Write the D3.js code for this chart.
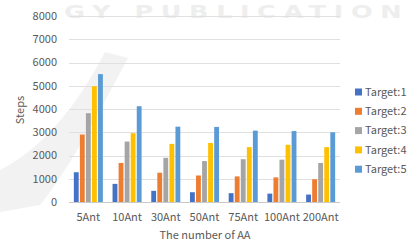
<!DOCTYPE html>
<html>
<head>
<meta charset="utf-8">
<script src="https://cdn.jsdelivr.net/npm/d3@7"></script>
<style>
body { margin: 0; background: #fff; }
svg { display: block; font-family: "Noto Sans CJK JP", "Noto Sans", sans-serif; }
</style>
</head>
<body>
<script>
'use strict';

const width = 413;
const height = 242;

const categories = ["5Ant", "10Ant", "30Ant", "50Ant", "75Ant", "100Ant", "200Ant"];
const seriesNames = ["Target:1", "Target:2", "Target:3", "Target:4", "Target:5"];
const target1 = [1280, 780, 480, 420, 380, 360, 320];
const target2 = [2900, 1680, 1260, 1140, 1100, 1060, 980];
const target3 = [3820, 2600, 1900, 1760, 1840, 1820, 1680];
const target4 = [4980, 2960, 2500, 2540, 2360, 2460, 2360];
const target5 = [5500, 4120, 3240, 3230, 3070, 3050, 3000];
const yTicks = [0, 1000, 2000, 3000, 4000, 5000, 6000, 7000, 8000];
const colors = ["#4472C4", "#ED7D31", "#A5A5A5", "#FFC000", "#5B9BD5"];

const values = [target1, target2, target3, target4, target5];

const svg = d3.select("body")
    .append("svg")
    .attr("width", width)
    .attr("height", height);

// faint watermark behind the chart
svg.append("path")
    .attr("d", "M105,52 L128,58 C95,120 65,175 40,205 L0,212 L0,170 C40,150 75,110 105,52 Z")
    .attr("fill", "#f2f2f2");
svg.append("text")
    .attr("transform", "translate(64,18) scale(1.5,1)")
    .attr("fill", "#eeeeee")
    .attr("font-size", 17)
    .attr("font-weight", "bold")
    .attr("font-family", "DejaVu Sans")
    .attr("textLength", 225)
    .attr("lengthAdjust", "spacing")
    .text("GY PUBLICATION");

let x = d3.scaleBand()
    .domain(categories)
    .range([69, 340])
    .paddingInner(0.25)
    .paddingOuter(0.125);

let xInner = d3.scaleBand()
    .domain(seriesNames)
    .range([0, x.bandwidth()])
    .paddingInner(0.2);

let y = d3.scaleLinear()
    .domain([0, 8000])
    .range([202, 16]);

// grid
svg.append("g").selectAll("line")
    .data(yTicks)
    .enter()
    .append("line")
    .attr("x1", 69)
    .attr("x2", 340)
    .attr("y1", d => Math.round(y(d)) + 0.5)
    .attr("y2", d => Math.round(y(d)) + 0.5)
    .attr("stroke", d => d === 0 ? "#c8c8c8" : "#e0e0e0")
    .attr("stroke-width", 1);

// y tick labels
svg.append("g").selectAll("text")
    .data(yTicks)
    .enter()
    .append("text")
    .attr("x", 57)
    .attr("y", d => y(d))
    .attr("dy", "0.35em")
    .attr("text-anchor", "end")
    .attr("font-size", 11)
    .attr("fill", "#595959")
    .text(d => d);

// bars
let groups = svg.append("g").selectAll("g")
    .data(seriesNames)
    .enter()
    .append("g")
    .attr("fill", (d, i) => colors[i]);

groups.selectAll("rect")
    .data((s, i) => categories.map((c, j) => ({ cat: c, series: s, value: values[i][j] })))
    .enter()
    .append("rect")
    .attr("x", d => x(d.cat) + xInner(d.series))
    .attr("width", xInner.bandwidth())
    .attr("y", d => y(d.value))
    .attr("height", d => y(0) - y(d.value));

// x labels
svg.append("g").selectAll("text")
    .data(categories)
    .enter()
    .append("text")
    .attr("x", d => x(d) + x.bandwidth() / 2)
    .attr("y", 221)
    .attr("text-anchor", "middle")
    .attr("font-size", 11)
    .attr("fill", "#595959")
    .text(d => d);

// axis titles
svg.append("text")
    .attr("x", 205)
    .attr("y", 239)
    .attr("text-anchor", "middle")
    .attr("font-size", 11)
    .attr("fill", "#595959")
    .text("The number of AA");

svg.append("text")
    .attr("transform", "translate(24,110) rotate(-90)")
    .attr("text-anchor", "middle")
    .attr("font-size", 11)
    .attr("fill", "#595959")
    .text("Steps");

// legend
let legend = svg.append("g").selectAll("g")
    .data(seriesNames)
    .enter()
    .append("g")
    .attr("transform", (d, i) => `translate(355,${92 + i * 19.3})`);

legend.append("rect")
    .attr("x", 0)
    .attr("y", -3.5)
    .attr("width", 7)
    .attr("height", 7)
    .attr("fill", (d, i) => colors[i]);

legend.append("text")
    .attr("x", 10)
    .attr("y", 0)
    .attr("dy", "0.35em")
    .attr("font-size", 11)
    .attr("fill", "#595959")
    .text(d => d);
</script>
</body>
</html>
